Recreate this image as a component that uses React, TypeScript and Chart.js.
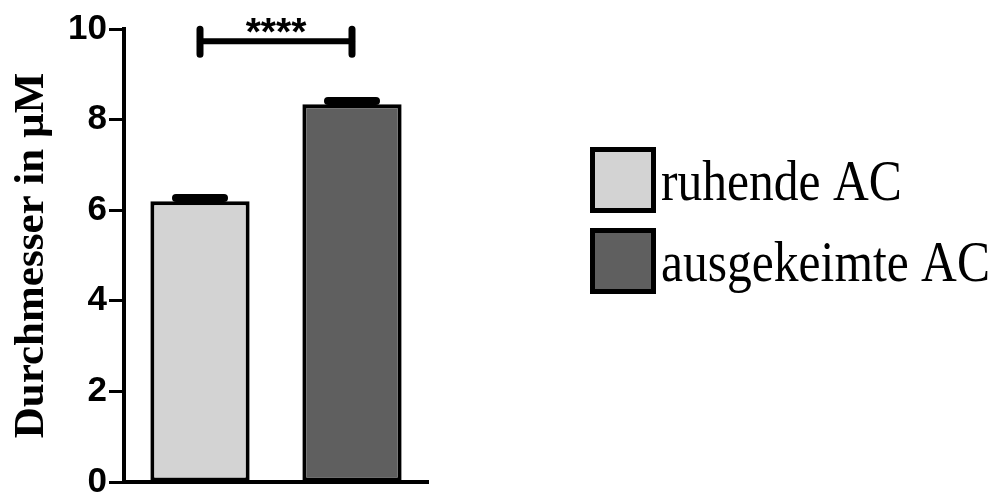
import React, { useEffect, useRef } from "react";
import { Chart, registerables } from "chart.js";

Chart.register(...registerables);

const categories = ["ruhende AC", "ausgekeimte AC"];
const means = [6.2, 8.34];
const sem = [0.07, 0.07];
const barColors = ["#d3d3d3", "#5f5f5f"];
const yTicks = [0, 2, 4, 6, 8, 10];
const sigPair = [0, 1];
const sigLevel = 9.73;
const sigLabel = "****";
const yTitle = "Durchmesser in µM";

const overlayPlugin = {
  id: "overlay",
  afterDatasetsDraw(chart: any) {
    const ctx = chart.ctx;
    const yScale = chart.scales.y;
    const meta = chart.getDatasetMeta(0);
    ctx.save();
    ctx.strokeStyle = "#000";
    ctx.fillStyle = "#000";
    // error bars (upper only)
    meta.data.forEach((el: any, i: number) => {
      const x = el.x;
      const yTop = yScale.getPixelForValue(means[i] + sem[i]);
      ctx.lineWidth = 3;
      ctx.lineCap = "butt";
      ctx.beginPath();
      ctx.moveTo(x, el.y);
      ctx.lineTo(x, yTop);
      ctx.stroke();
      ctx.lineWidth = 8;
      ctx.lineCap = "round";
      ctx.beginPath();
      ctx.moveTo(x - 24, yTop);
      ctx.lineTo(x + 24, yTop);
      ctx.stroke();
    });
    // significance bracket
    const x1 = meta.data[sigPair[0]].x;
    const x2 = meta.data[sigPair[1]].x;
    const yb = yScale.getPixelForValue(sigLevel);
    ctx.lineCap = "round";
    ctx.lineWidth = 6;
    ctx.beginPath();
    ctx.moveTo(x1, yb);
    ctx.lineTo(x2, yb);
    ctx.stroke();
    ctx.lineWidth = 7;
    ctx.beginPath();
    ctx.moveTo(x1, yb - 12);
    ctx.lineTo(x1, yb + 13);
    ctx.moveTo(x2, yb - 12);
    ctx.lineTo(x2, yb + 13);
    ctx.stroke();
    ctx.font = "bold 39px 'Liberation Sans', Arial, sans-serif";
    ctx.textAlign = "center";
    ctx.textBaseline = "alphabetic";
    ctx.fillText(sigLabel, (x1 + x2) / 2, yb + 4);

    // legend
    const lx = 590;
    const ly = [147, 228];
    const bs = 66;
    categories.forEach((label, i) => {
      ctx.fillStyle = barColors[i];
      ctx.fillRect(lx, ly[i], bs, bs);
      ctx.lineWidth = 5;
      ctx.strokeStyle = "#000";
      ctx.strokeRect(lx + 2.5, ly[i] + 2.5, bs - 5, bs - 5);
      ctx.save();
      ctx.fillStyle = "#000";
      ctx.textAlign = "left";
      ctx.textBaseline = "alphabetic";
      ctx.font = "56px 'Liberation Serif', 'Times New Roman', serif";
      ctx.translate(lx + bs + 5, ly[i] + 53);
      ctx.scale(0.885, 1);
      ctx.fillText(label, 0, 0);
      ctx.restore();
    });
    ctx.restore();
  },
};

export default function App() {
  const ref = useRef<HTMLCanvasElement | null>(null);
  useEffect(() => {
    if (!ref.current) return;
    const chart = new Chart(ref.current, {
      type: "bar",
      data: {
        labels: categories,
        datasets: [
          {
            label: "Durchmesser",
            data: means,
            backgroundColor: barColors,
            borderColor: "#000",
            borderWidth: 4,
            borderSkipped: false,
            barPercentage: 0.653,
            categoryPercentage: 1,
          },
        ],
      },
      options: {
        animation: false,
        responsive: false,
        devicePixelRatio: 1,
        layout: { padding: { left: 0, right: 571, top: 29, bottom: 0 } },
        plugins: {
          legend: { display: false },
          tooltip: { enabled: false },
          title: { display: false },
        },
        scales: {
          x: {
            ticks: { display: false },
            grid: { display: false, drawTicks: false },
            border: { color: "#000", width: 4 },
            afterFit: (s: any) => {
              s.height = 12;
            },
          },
          y: {
            min: 0,
            max: 10,
            afterBuildTicks: (s: any) => {
              s.ticks = yTicks.map((v) => ({ value: v }));
            },
            ticks: {
              color: "#000",
              padding: 2,
              font: { family: "'Liberation Sans', Arial, sans-serif", weight: "bold", size: 35 },
            },
            grid: {
              drawOnChartArea: false,
              drawTicks: true,
              tickLength: 15,
              tickWidth: 3,
              tickColor: "#000",
            },
            border: { color: "#000", width: 4 },
            title: {
              display: true,
              text: yTitle,
              color: "#000",
              padding: { top: 6, bottom: 0 },
              font: { family: "'Liberation Serif', 'Times New Roman', serif", weight: "bold", size: 43 },
            },
            afterFit: (s: any) => {
              s.width = 124;
              s.paddingTop = 0;
              s.paddingBottom = 0;
            },
          },
        },
      },
      plugins: [overlayPlugin],
    });
    return () => chart.destroy();
  }, []);
  return (
    <div style={{ position: "absolute", left: 0, top: 0, width: 999, height: 494, background: "#fff" }}>
      <canvas ref={ref} width={999} height={494} />
    </div>
  );
}
